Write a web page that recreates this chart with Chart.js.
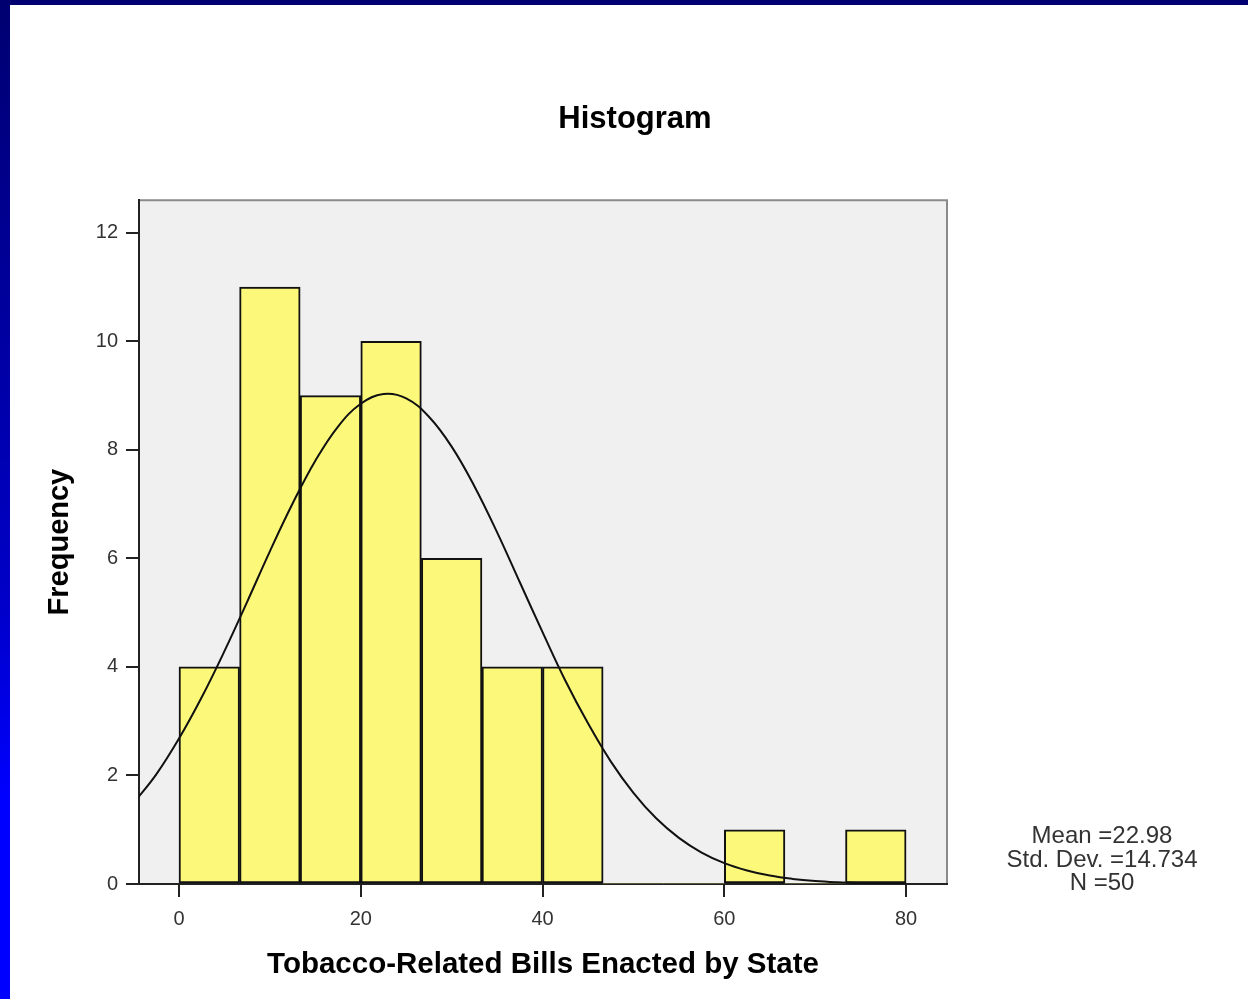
<!DOCTYPE html>
<html>
<head>
<meta charset="utf-8">
<script src="https://cdn.jsdelivr.net/npm/chart.js@4"></script>
<style>
  html, body { margin:0; padding:0; background:#fff; }
  body { width:1248px; height:999px; position:relative; overflow:hidden; font-family:"Liberation Sans", Arial, sans-serif; }
  #wrap { position:absolute; left:0; top:0; width:1248px; height:999px; }
  #topbar { position:absolute; left:0; top:0; width:1248px; height:5px; background:#000070; z-index:3; }
  #leftbar { position:absolute; left:0; top:0; width:10px; height:999px; background:linear-gradient(#000070, #0000c8 60%, #0000ff 80%); z-index:3; }
  #stats { position:absolute; left:982px; top:823px; width:240px; text-align:center; font-size:24px; line-height:23.5px; color:#333; z-index:2; }
</style>
</head>
<body>
<div id="topbar"></div>
<div id="leftbar"></div>
<div id="wrap"><canvas id="c" width="1248" height="999"></canvas></div>
<div id="stats"><div>Mean =22.98</div><div>Std. Dev. =14.734</div><div>N =50</div></div>
<script>
// ---- data ----
const binEdgesStart = [0, 6.667, 13.333, 20, 26.667, 33.333, 40, 46.667, 53.333, 60, 66.667, 73.333];
const binWidth = 6.667;
const counts = [4, 11, 9, 10, 6, 4, 4, 0, 0, 1, 0, 1];
const curveX = [-5, -2.5, 0, 2.5, 5, 7.5, 10, 12.5, 15, 17.5, 20, 22.5, 25, 27.5, 30, 32.5, 35, 37.5, 40, 42.5, 45, 47.5, 50, 52.5, 55, 57.5, 60, 62.5, 65, 67.5, 70, 72.5, 75, 77.5, 80];
const curveY = [1.49, 2.02, 2.68, 3.44, 4.29, 5.20, 6.13, 7.01, 7.80, 8.43, 8.85, 9.03, 8.95, 8.61, 8.06, 7.33, 6.48, 5.56, 4.64, 3.75, 2.96, 2.26, 1.68, 1.21, 0.85, 0.58, 0.385, 0.25, 0.155, 0.094, 0.055, 0.032, 0.018, 0.009, 0.005];
const xTicks = [0, 20, 40, 60, 80];
const yTicks = [0, 2, 4, 6, 8, 10, 12];
const xRange = [-4.4, 84.5];
const yRange = [0, 12.6];

const barData = counts.map((c, i) => ({ x: binEdgesStart[i] + binWidth / 2, y: c }));
const curveData = curveX.map((x, i) => ({ x: x, y: curveY[i] }));

const FONT = "'Liberation Sans', Arial, sans-serif";

const frame = {
  id: 'frame',
  beforeDraw(chart) {
    const a = chart.chartArea, ctx = chart.ctx;
    ctx.save();
    ctx.fillStyle = '#f0f0f0';
    ctx.fillRect(a.left, a.top, a.right - a.left, a.bottom - a.top);
    ctx.strokeStyle = '#8a8a8a';
    ctx.lineWidth = 2;
    ctx.beginPath();
    ctx.moveTo(a.left, a.top); ctx.lineTo(a.right, a.top); ctx.lineTo(a.right, a.bottom);
    ctx.stroke();
    ctx.restore();
  }
};

new Chart(document.getElementById('c'), {
  type: 'bar',
  data: {
    datasets: [
      {
        type: 'line',
        data: curveData,
        borderColor: '#111',
        borderWidth: 2,
        pointRadius: 0,
        tension: 0.4,
        fill: false,
        order: 0
      },
      {
        type: 'bar',
        data: barData,
        backgroundColor: '#fcf87a',
        borderColor: '#111',
        borderWidth: (ctx) => (ctx.raw && ctx.raw.y === 0) ? 0 : 2,
        borderSkipped: false,
        barPercentage: 1,
        categoryPercentage: 1,
        order: 1
      }
    ]
  },
  options: {
    responsive: false,
    animation: false,
    devicePixelRatio: 1,
    layout: { padding: { left: 22, right: 0, top: 0, bottom: 0 } },
    plugins: {
      legend: { display: false },
      tooltip: { enabled: false },
      title: {
        display: true,
        text: 'Histogram',
        color: '#000',
        font: { family: FONT, size: 31, weight: 'bold' },
        padding: { top: 101, bottom: 62 }
      }
    },
    scales: {
      x: {
        type: 'linear',
        min: xRange[0], max: xRange[1],
        offset: false,
        afterBuildTicks: (s) => { s.ticks = xTicks.map(v => ({ value: v })); },
        afterFit: (s) => { s.height = 115; },
        grid: { display: true, drawOnChartArea: false, drawTicks: true, tickLength: 13, color: '#222', lineWidth: 2, offset: false },
        border: { display: true, color: '#222', width: 2 },
        ticks: { color: '#333', font: { family: FONT, size: 20 }, padding: 10, maxRotation: 0 },
        title: {
          display: true,
          text: 'Tobacco-Related Bills Enacted by State',
          color: '#000',
          font: { family: FONT, size: 29.5, weight: 'bold' },
          padding: { top: 0, bottom: 16 }
        }
      },
      y: {
        type: 'linear',
        min: yRange[0], max: yRange[1],
        afterBuildTicks: (s) => { s.ticks = yTicks.map(v => ({ value: v })); },
        afterFit: (s) => { s.width = 117; },
        grid: { display: true, drawOnChartArea: false, drawTicks: true, tickLength: 13, color: '#222', lineWidth: 2 },
        border: { display: true, color: '#222', width: 2 },
        ticks: { color: '#333', font: { family: FONT, size: 20 }, padding: 8 },
        title: {
          display: true,
          text: 'Frequency',
          color: '#000',
          font: { family: FONT, size: 29, weight: 'bold' },
          padding: { top: 21, bottom: 0 }
        }
      },
      ySpacer: {
        axis: 'y',
        type: 'linear',
        position: 'right',
        min: 0, max: 1,
        afterFit: (s) => { s.width = 301; },
        grid: { display: false },
        border: { display: false },
        ticks: { display: false }
      }
    }
  },
  plugins: [frame]
});
</script>
</body>
</html>
